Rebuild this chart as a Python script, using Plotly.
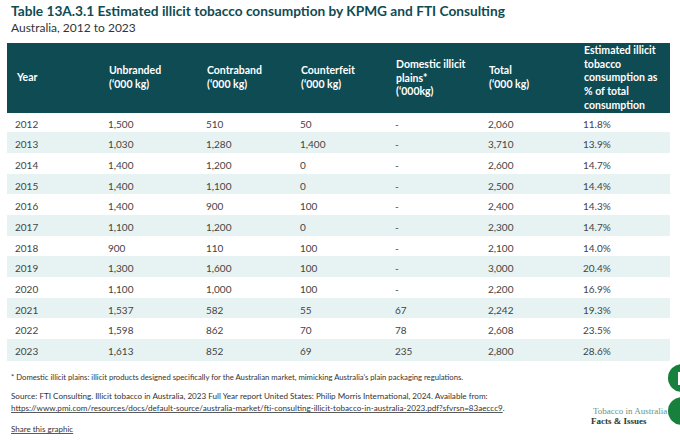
import plotly.graph_objects as go

# table data
years = ["2012", "2013", "2014", "2015", "2016", "2017", "2018", "2019", "2020", "2021", "2022", "2023"]
unbranded = ["1,500", "1,030", "1,400", "1,400", "1,400", "1,100", "900", "1,300", "1,100", "1,537", "1,598", "1,613"]
contraband = ["510", "1,280", "1,200", "1,100", "900", "1,200", "110", "1,600", "1,000", "582", "862", "852"]
counterfeit = ["50", "1,400", "0", "0", "100", "0", "100", "100", "100", "55", "70", "69"]
domestic_plains = ["-", "-", "-", "-", "-", "-", "-", "-", "-", "67", "78", "235"]
total = ["2,060", "3,710", "2,600", "2,500", "2,400", "2,300", "2,100", "3,000", "2,200", "2,242", "2,608", "2,800"]
pct_total = ["11.8%", "13.9%", "14.7%", "14.4%", "14.3%", "14.7%", "14.0%", "20.4%", "16.9%", "19.3%", "23.5%", "28.6%"]

headers = [
    "Year",
    "Unbranded<br>(‘000 kg)",
    "Contraband<br>(‘000 kg)",
    "Counterfeit<br>(‘000 kg)",
    "Domestic illicit<br>plains*<br>(‘000kg)",
    "Total<br>(‘000 kg)",
    "Estimated illicit<br>tobacco<br>consumption as<br>% of total<br>consumption",
]

TEAL = "#0f4b53"
ALT = "#e6f3f2"
FONT = "Lato"

col_widths = [93, 98, 94, 95, 93, 95, 94]
TABLE_LEFT = 7
TABLE_RIGHT = 669
HEADER_TOP = 43
HEADER_H = 69
ROW_H = 20.67

columns = [years, unbranded, contraband, counterfeit, domestic_plains, total, pct_total]
row_fill = ["white" if i % 2 == 0 else ALT for i in range(len(years))]

table_bottom = HEADER_TOP + HEADER_H + ROW_H * len(years) + 1

fig = go.Figure(
    go.Table(
        domain=dict(x=[TABLE_LEFT / 680, TABLE_RIGHT / 680],
                    y=[(441 - table_bottom) / 441, (441 - HEADER_TOP) / 441]),
        columnwidth=col_widths,
        header=dict(
            values=[""] * len(headers),
            fill_color=TEAL,
            line_color=TEAL,
            align="left",
            height=HEADER_H,
            font=dict(family=FONT, size=10.5, color="white"),
        ),
        cells=dict(
            values=columns,
            fill_color=[row_fill] * len(columns),
            line_color=[row_fill] * len(columns),
            align="left",
            height=ROW_H,
            font=dict(family=FONT, size=10, color="#444444"),
        ),
    )
)

# header labels, vertically centred in the dark band
x_left = TABLE_LEFT
for h, w in zip(headers, col_widths):
    fig.add_annotation(
        x=x_left + 7, y=HEADER_TOP + HEADER_H / 2 - 0.5,
        text="<b>" + h.replace("<br>", "</b><br><b>") + "</b>",
        showarrow=False, xanchor="left", yanchor="middle", align="left",
        font=dict(family=FONT, size=10.5, color="white"),
    )
    x_left += w

fig.add_annotation(
    x=9, y=10,
    text="<b>Table 13A.3.1 Estimated illicit tobacco consumption by KPMG and FTI Consulting</b>",
    showarrow=False, xanchor="left", yanchor="middle",
    font=dict(family=FONT, size=13.7, color=TEAL),
)
fig.add_annotation(
    x=9, y=27, text="Australia, 2012 to 2023",
    showarrow=False, xanchor="left", yanchor="middle",
    font=dict(family=FONT, size=12, color="#333333"),
)

notes = [
    (377, 7.7, "* Domestic illicit plains: illicit products designed specifically for the Australian market, mimicking Australia’s plain packaging regulations."),
    (396, 8.1, "Source: FTI Consulting. Illicit tobacco in Australia, 2023 Full Year report United States: Philip Morris International, 2024. Available from:"),
    (408, 8.1, "<u>https://www.pmi.com/resources/docs/default-source/australia-market/fti-consulting-illicit-tobacco-in-australia-2023.pdf?sfvrsn=83aeccc9</u>."),
    (429, 8.0, "<u>Share this graphic</u>"),
]
for y, size, t in notes:
    fig.add_annotation(
        x=9, y=y, text=t, showarrow=False, xanchor="left", yanchor="middle",
        font=dict(family=FONT, size=size, color="#333333"),
    )

fig.add_annotation(
    x=669, y=411, text="Tobacco in Australia", showarrow=False,
    xanchor="right", yanchor="middle",
    font=dict(family="Liberation Serif", size=9, color="#6a9383"),
)
fig.add_annotation(
    x=649, y=421, text="<b>Facts & Issues</b>", showarrow=False,
    xanchor="right", yanchor="middle",
    font=dict(family="Liberation Serif", size=9, color="#1e3a30"),
)

# green side buttons, cut off by the window edge
fig.add_shape(type="circle", x0=668, x1=696, y0=364, y1=392, fillcolor="#17803d", line_width=0, layer="below")
fig.add_shape(type="circle", x0=668, x1=696, y0=397, y1=425, fillcolor="#17803d", line_width=0, layer="below")
fig.add_shape(type="rect", x0=678, x1=682, y0=372, y1=385, fillcolor="white", line_width=0)

fig.update_layout(
    width=680,
    height=441,
    margin=dict(l=0, r=0, t=0, b=0),
    paper_bgcolor="white",
    plot_bgcolor="white",
    xaxis=dict(range=[0, 680], visible=False, fixedrange=True),
    yaxis=dict(range=[441, 0], visible=False, fixedrange=True),
)
# annotations and shapes are placed in pixel units via the hidden axes
for a in fig.layout.annotations:
    a.xref = "x"
    a.yref = "y"
for s in fig.layout.shapes:
    s.xref = "x"
    s.yref = "y"

# drop the default 8px body margin so the figure fills the window
fig.write_html("out.html", config={"displayModeBar": False},
               post_script="document.body.style.margin='0';document.body.style.overflow='hidden';")
